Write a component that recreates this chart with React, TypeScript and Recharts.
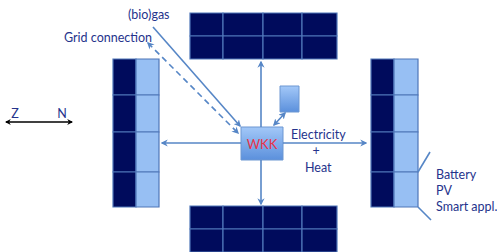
import { ScatterChart, Scatter, XAxis, YAxis, ReferenceArea, ReferenceLine } from 'recharts'

// diagram units = pixels of the 497x252 canvas
const W = 497
const H = 252

// panel grid edges
const TOP_X = [190, 223, 263, 302, 337]
const TOP_Y = [13, 36, 59]
const BOTTOM_Y = [206, 229, 252]
const SIDE_Y = [59, 95, 132, 172, 207]
const LEFT_X = [113, 136, 159]
const RIGHT_X = [371, 394, 418]

// boxes: WKK unit and small storage box
const WKK_BOX = { x1: 241, x2: 283, y1: 127, y2: 160 }
const SMALL_BOX = { x1: 280, x2: 299, y1: 86, y2: 112 }

// connectors: [x1, y1, x2, y2], heads
const ARROWS = [
  { p: [241, 143, 162, 143], start: false, end: true, dashed: false },
  { p: [283, 143, 366, 143], start: false, end: true, dashed: false },
  { p: [261, 127, 261, 62], start: false, end: true, dashed: false },
  { p: [261, 160, 261, 204], start: false, end: true, dashed: false },
  { p: [153, 27, 240, 126], start: false, end: true, dashed: false },
  { p: [148, 43, 238, 133], start: true, end: true, dashed: true },
  { p: [285, 113, 274, 125], start: true, end: true, dashed: false },
  { p: [418, 172, 430, 152], start: false, end: false, dashed: false },
  { p: [418, 207, 431, 220], start: false, end: false, dashed: false },
]
const COMPASS = [6, 122, 72, 122]

const LEFT_LABELS = [
  { text: '(bio)gas', x: 128, y: 14 },
  { text: 'Grid connection', x: 64, y: 37 },
  { text: 'Electricity', x: 291, y: 134 },
  { text: 'Heat', x: 305, y: 167 },
  { text: 'Battery', x: 436, y: 174 },
  { text: 'PV', x: 436, y: 190 },
  { text: 'Smart appl.', x: 436, y: 206 },
]
const CENTER_LABELS = [
  { text: '+', x: 316, y: 150 },
  { text: 'Z', x: 15, y: 113 },
  { text: 'N', x: 62, y: 113 },
]
const WKK_LABEL = [{ text: 'WKK', x: 262, y: 144 }]

const NAVY = '#000b5c'
const LIGHT = '#97bff3'
const GRID = '#4f76b8'
const LINE = '#5686c6'
const TEXT = '#25338c'
const FONT = 'Lato, "Open Sans", sans-serif'

type Cell = { x1: number; x2: number; y1: number; y2: number; fill: string }

function gridCells(xs: number[], ys: number[], fills: string[]): Cell[] {
  const out: Cell[] = []
  for (let r = 0; r < ys.length - 1; r++)
    for (let c = 0; c < xs.length - 1; c++)
      out.push({ x1: xs[c], x2: xs[c + 1], y1: ys[r], y2: ys[r + 1], fill: fills[c] })
  return out
}

const CELLS: Cell[] = [
  ...gridCells(TOP_X, TOP_Y, [NAVY, NAVY, NAVY, NAVY]),
  ...gridCells(TOP_X, BOTTOM_Y, [NAVY, NAVY, NAVY, NAVY]),
  ...gridCells(LEFT_X, SIDE_Y, [NAVY, LIGHT]),
  ...gridCells(RIGHT_X, SIDE_Y, [NAVY, LIGHT]),
]

const textShape = (anchor: string, color: string, size: number) => (p: any) => (
  <text
    x={p.cx}
    y={p.cy}
    textAnchor={anchor}
    dominantBaseline="central"
    fill={color}
    fontSize={size}
    fontFamily={FONT}
  >
    {p.payload.text}
  </text>
)

export default function App() {
  return (
    <div style={{ position: 'absolute', left: 0, top: 0, background: '#fff' }}>
      <ScatterChart width={W} height={H} margin={{ top: 0, right: 0, bottom: 0, left: 0 }}>
        <defs>
          <marker id="ah" viewBox="0 0 10 10" refX="8" refY="5" markerWidth="4.5" markerHeight="4.5" orient="auto-start-reverse">
            <path d="M0,0 L10,5 L0,10 L3,5 z" fill={LINE} />
          </marker>
          <marker id="ahk" viewBox="0 0 10 10" refX="8" refY="5" markerWidth="4" markerHeight="4" orient="auto-start-reverse">
            <path d="M0,0 L10,5 L0,10 L3,5 z" fill="#000" />
          </marker>
          <linearGradient id="boxfill" x1="0" y1="0" x2="0" y2="1">
            <stop offset="0%" stopColor="#a3c8f8" />
            <stop offset="100%" stopColor="#5b90dc" />
          </linearGradient>
        </defs>
        <XAxis type="number" dataKey="x" domain={[0, W]} hide />
        <YAxis type="number" dataKey="y" domain={[0, H]} reversed hide />

        {CELLS.map((c, i) => (
          <ReferenceArea
            key={'c' + i}
            x1={c.x1}
            x2={c.x2}
            y1={c.y1}
            y2={c.y2}
            fill={c.fill}
            fillOpacity={1}
            stroke={GRID}
            strokeWidth={1.2}
          />
        ))}

        {ARROWS.map((a, i) => (
          <ReferenceLine
            key={'a' + i}
            segment={[{ x: a.p[0], y: a.p[1] }, { x: a.p[2], y: a.p[3] }]}
            shape={(s: any) => (
              <line
                x1={s.x1}
                y1={s.y1}
                x2={s.x2}
                y2={s.y2}
                stroke={LINE}
                strokeWidth={1.6}
                strokeDasharray={a.dashed ? '6 4' : undefined}
                markerStart={a.start ? 'url(#ah)' : undefined}
                markerEnd={a.end ? 'url(#ah)' : undefined}
              />
            )}
          />
        ))}
        <ReferenceLine
          segment={[{ x: COMPASS[0], y: COMPASS[1] }, { x: COMPASS[2], y: COMPASS[3] }]}
          shape={(s: any) => (
            <line x1={s.x1} y1={s.y1} x2={s.x2} y2={s.y2} stroke="#000" strokeWidth={1.5}
              markerStart="url(#ahk)" markerEnd="url(#ahk)" />
          )}
        />

        <ReferenceArea {...WKK_BOX} fill="url(#boxfill)" fillOpacity={1} stroke="#6c97d2" strokeWidth={1} />
        <ReferenceArea {...SMALL_BOX} fill="url(#boxfill)" fillOpacity={1} stroke="#6c97d2" strokeWidth={1} />

        <Scatter data={LEFT_LABELS} isAnimationActive={false} shape={textShape('start', TEXT, 12.5)} />
        <Scatter data={CENTER_LABELS} isAnimationActive={false} shape={textShape('middle', TEXT, 12.5)} />
        <Scatter data={WKK_LABEL} isAnimationActive={false} shape={textShape('middle', '#e8334a', 13)} />
      </ScatterChart>
    </div>
  )
}
